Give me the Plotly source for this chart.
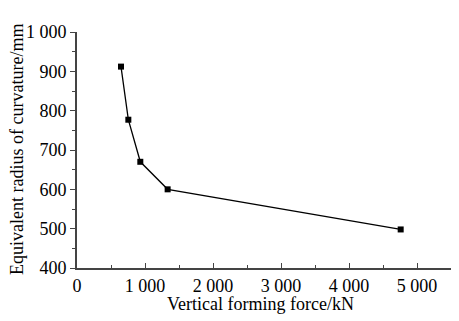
import plotly.graph_objects as go

force_kN = [647, 755, 931, 1333, 4760]
radius_mm = [912, 777, 670, 600, 498]

x_tickvals = [0, 1000, 2000, 3000, 4000, 5000]
x_ticktext = ["0", "1 000", "2 000", "3 000", "4 000", "5 000"]
y_tickvals = [400, 500, 600, 700, 800, 900, 1000]
y_ticktext = ["400", "500", "600", "700", "800", "900", "1 000"]

tick_font = dict(family="Liberation Serif, Times New Roman, serif", size=18, color="black")
title_font = dict(family="Liberation Serif, Times New Roman, serif", size=18, color="black")

fig = go.Figure()
fig.add_trace(go.Scatter(
    x=force_kN, y=radius_mm, mode="lines+markers",
    line=dict(color="black", width=1.3),
    marker=dict(symbol="square", size=6, color="black"),
    showlegend=False,
    cliponaxis=False,
))

axis_color = "#444444"
fig.update_layout(
    width=443, height=313,
    margin=dict(l=69, r=0, t=24, b=53),
    paper_bgcolor="white", plot_bgcolor="white",
    font=tick_font,
    xaxis=dict(
        range=[0, 5500], tickvals=x_tickvals, ticktext=x_ticktext, automargin=False,
        showgrid=False, zeroline=False, showline=True, linecolor=axis_color, linewidth=2,
        ticks="inside", ticklen=5, tickwidth=1.2, tickcolor=axis_color,
        minor=dict(dtick=500, tick0=0, ticks="inside", ticklen=3, tickcolor=axis_color, showgrid=False),
        tickfont=tick_font,
    ),
    yaxis=dict(
        range=[400, 1000], tickvals=y_tickvals, ticktext=y_ticktext, automargin=False,
        showgrid=False, zeroline=False, showline=True, linecolor=axis_color, linewidth=2,
        ticks="outside", ticklen=5, tickwidth=1.2, tickcolor=axis_color,
        minor=dict(dtick=50, tick0=400, ticks="outside", ticklen=3, tickcolor=axis_color, showgrid=False),
        tickfont=tick_font,
    ),
    annotations=[
        dict(text="Vertical forming force/kN", xref="paper", yref="paper",
             x=(260 - 77) / 374, y=-(304 - 268) / 236, xanchor="center", yanchor="middle",
             showarrow=False, font=title_font, borderpad=0),
        dict(text="Equivalent radius of curvature/mm", xref="paper", yref="paper",
             x=-(77 - 17) / 374, y=0.5, xanchor="center", yanchor="middle", textangle=-90,
             showarrow=False, font=title_font, borderpad=0),
    ],
)

fig.write_html("out.html")
